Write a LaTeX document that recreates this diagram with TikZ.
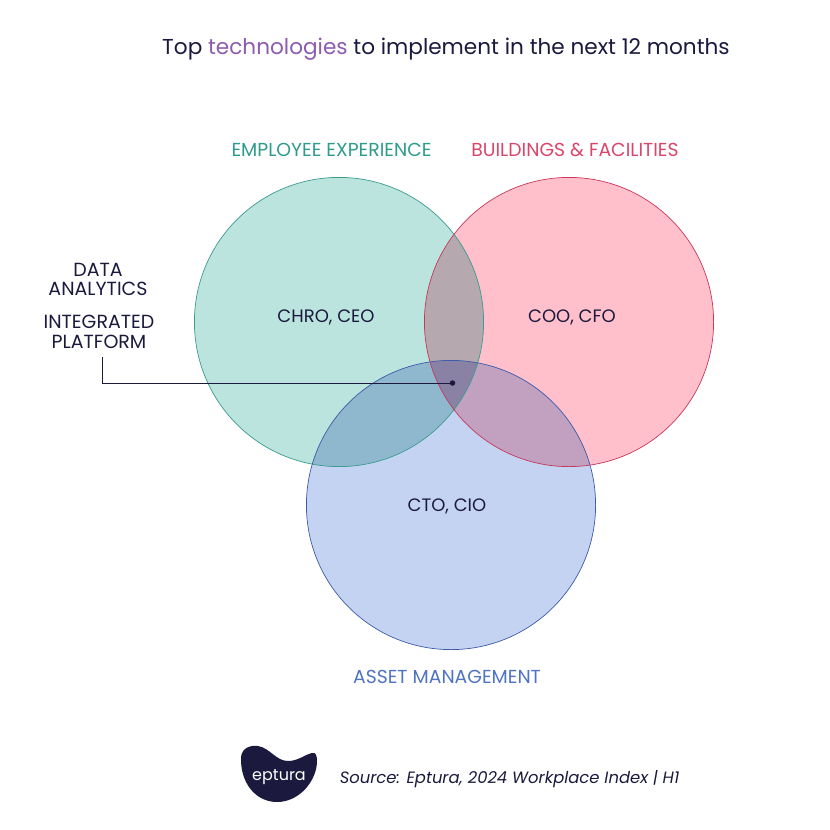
\documentclass[tikz,border=0pt]{standalone}
\usepackage{fontspec}
\setmainfont{Poppins}
\definecolor{ink}{HTML}{1B1A3E}
\definecolor{gfill}{HTML}{BCE4DF}
\definecolor{pfill}{HTML}{FFC0CB}
\definecolor{bfill}{HTML}{C5D3F3}
\definecolor{gline}{HTML}{3A9C8E}
\definecolor{pline}{HTML}{C8385A}
\definecolor{bline}{HTML}{3D5BA8}
\definecolor{gp}{HTML}{B5A8AE}
\definecolor{gb}{HTML}{8FB8CF}
\definecolor{pb}{HTML}{C2A0C0}
\definecolor{gpb}{HTML}{8A82A5}
\definecolor{titlepurple}{HTML}{8E5BB0}
\definecolor{glabel}{HTML}{2E9C8C}
\definecolor{plabel}{HTML}{D9466A}
\definecolor{blabel}{HTML}{4F74C4}
\tikzset{
  lab/.style={font=\fontsize{18}{20}\selectfont,text=ink,inner sep=0pt,align=center},
  sidelab/.style={font=\fontsize{19}{19.7}\selectfont,text=ink,inner sep=0pt,align=center},
  head/.style={font=\fontsize{18.8}{22}\selectfont,inner sep=0pt},
}
\def\cg{(339,322) circle (144.6)}
\def\cp{(569,322) circle (144.6)}
\def\cb{(451,505) circle (144.6)}
\begin{document}
\begin{tikzpicture}[x=1pt,y=-1pt]
\useasboundingbox (0,0) rectangle (830,830);
\fill[white] (0,0) rectangle (830,830);
\fill[gfill] \cg;
\fill[pfill] \cp;
\fill[bfill] \cb;
\begin{scope}\clip \cg; \fill[gp] \cp; \end{scope}
\begin{scope}\clip \cg; \fill[gb] \cb; \end{scope}
\begin{scope}\clip \cp; \fill[pb] \cb; \end{scope}
\begin{scope}\clip \cg; \clip \cp; \fill[gpb] \cb; \end{scope}
\draw[gline,line width=.7pt] \cg;
\draw[pline,line width=.7pt] \cp;
\draw[bline,line width=.7pt] \cb;
\node[inner sep=0pt,text=ink,font=\fontsize{21.6}{26}\selectfont] (title) at (446,49) {Top \textcolor{titlepurple}{technologies} to implement in the next 12 months};
\node[head,text=glabel] (ee) at (331.5,149.5) {EMPLOYEE EXPERIENCE};
\node[head,text=plabel] (bf) at (575,149.5) {BUILDINGS \& FACILITIES};
\node[head,text=blabel] (am) at (447,676.5) {ASSET MANAGEMENT};
\node[lab] (chro) at (326,317) {CHRO, CEO};
\node[lab] (coo) at (572,317) {COO, CFO};
\node[lab] (cto) at (447,506) {CTO, CIO};
\node[sidelab] (data) at (98,279.5) {DATA\\ANALYTICS};
\node[sidelab] (plat) at (99,332) {INTEGRATED\\PLATFORM};
\node[circle,fill=ink,inner sep=0pt,minimum size=5.5pt] (dot) at (452.5,383) {};
\coordinate (start) at (102,357);
\draw[ink,line width=.7pt] (start) |- (dot);
\fill[ink] (241,757) .. controls (242,748) and (250,745) .. (258,746)
  .. controls (270,748) and (276,761) .. (288,761)
  .. controls (298,761) and (304,755) .. (312,753)
  .. controls (316,752) and (317,756) .. (317,761)
  .. controls (317,780) and (300,802) .. (277,802)
  .. controls (255,802) and (240,782) .. (241,757) -- cycle;
\node[inner sep=0pt,text=white,font=\fontsize{16}{18}\selectfont] (logo) at (279,777) {eptura};
\node[inner sep=0pt,text=ink,font=\itshape\fontsize{16.4}{20}\selectfont] (src) at (509.5,779.5) {Source: Eptura, 2024 Workplace Index | H1};
\end{tikzpicture}
\end{document}
